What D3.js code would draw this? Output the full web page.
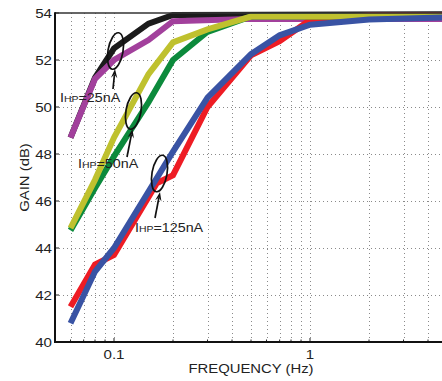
<!DOCTYPE html>
<html><head><meta charset="utf-8">
<script src="https://cdn.jsdelivr.net/npm/d3@7"></script>
<style>body{margin:0;background:#fff}svg{display:block}text{font-family:"Liberation Sans",Arial,sans-serif;fill:#222}</style>
</head><body><svg id="c" width="442" height="381"></svg>
<script>
// ---- data ----
const yTicks = [40, 42, 44, 46, 48, 50, 52, 54];
const xTickLabels = [0.1, 1];
const xGrid = [0.06, 0.07, 0.08, 0.09, 0.1, 0.2, 0.3, 0.4, 0.5, 0.6, 0.7, 0.8, 0.9, 1, 2, 3, 4];
const redF = [0.06, 0.08, 0.1, 0.165, 0.2, 0.3, 0.5, 0.7, 1, 2, 5];
const redG = [41.5, 43.3, 43.7, 46.75, 47.1, 50.0, 52.2, 52.8, 53.7, 53.9, 53.9];
const blueF = [0.06, 0.08, 0.1, 0.2, 0.3, 0.5, 0.7, 1, 2, 5];
const blueG = [40.8, 43.0, 44.0, 48.1, 50.4, 52.25, 53.05, 53.5, 53.72, 53.82];
const blackF = [0.06, 0.08, 0.1, 0.15, 0.2, 5];
const blackG = [48.7, 51.25, 52.5, 53.55, 53.92, 53.95];
const purpleF = [0.06, 0.08, 0.1, 0.15, 0.2, 0.5, 5];
const purpleG = [48.7, 51.2, 52.0, 52.85, 53.65, 53.75, 53.75];
const greenF = [0.06, 0.08, 0.1, 0.15, 0.2, 0.3, 0.5, 5];
const greenG = [44.75, 46.55, 47.9, 50.2, 52.0, 53.2, 53.85, 53.85];
const yellowF = [0.06, 0.08, 0.1, 0.15, 0.2, 0.3, 0.5, 5];
const yellowG = [44.85, 46.9, 48.7, 51.4, 52.75, 53.3, 53.85, 53.85];
const seriesOrder = [
  {f: blackF, g: blackG, color: "#1b1b1b"},
  {f: purpleF, g: purpleG, color: "#a2409c"},
  {f: redF, g: redG, color: "#ee1c24"},
  {f: greenF, g: greenG, color: "#0c8a3c"},
  {f: yellowF, g: yellowG, color: "#bfc12e"},
  {f: blueF, g: blueG, color: "#3953a4"}
];
const annotations = [
  {num: "25nA", lx: 60, ly: 102, ex: 115.5, ey: 51, ax1: 113, ay1: 89, ax2: 115, ay2: 69},
  {num: "50nA", lx: 78, ly: 168, ex: 133.5, ey: 111, ax1: 127, ay1: 157, ax2: 132.5, ay2: 129},
  {num: "125nA", lx: 135, ly: 232, ex: 159.5, ey: 173.5, ax1: 155, ay1: 218, ax2: 160, ay2: 192}
];

// ---- layout ----
const L = 55, R = 447, T = 13, B = 342;
const svg = d3.select("#c");
const x = d3.scaleLog().domain([0.05, 5]).range([L, R]);
const y = d3.scaleLinear().domain([40, 54]).range([B, T]);

// grid
const grid = svg.append("g").attr("stroke", "#8a8a8a").attr("stroke-width", 1).attr("stroke-dasharray", "1,3");
grid.selectAll(".vg").data(xGrid).join("line")
  .attr("x1", d => Math.round(x(d)) + 0.5).attr("x2", d => Math.round(x(d)) + 0.5)
  .attr("y1", T).attr("y2", B);
grid.selectAll(".hg").data(yTicks.slice(1, -1)).join("line")
  .attr("y1", d => Math.round(y(d)) + 0.5).attr("y2", d => Math.round(y(d)) + 0.5)
  .attr("x1", L).attr("x2", R);

// ticks (inward)
const tk = svg.append("g").attr("stroke", "#222").attr("stroke-width", 1);
tk.selectAll(".yt").data(yTicks).join("line")
  .attr("x1", L).attr("x2", L + 4).attr("y1", d => y(d)).attr("y2", d => y(d));
tk.selectAll(".xt").data(xGrid).join("line")
  .attr("x1", d => x(d)).attr("x2", d => x(d)).attr("y1", B)
  .attr("y2", d => xTickLabels.includes(d) ? B - 4 : B - 2.5);

// lines
const line = d3.line().x(d => x(d[0])).y(d => y(d[1]));
const plot = svg.append("g");
seriesOrder.forEach(s => {
  plot.append("path").datum(s.f.map((f, i) => [f, s.g[i]]))
    .attr("d", line).attr("fill", "none").attr("stroke", s.color)
    .attr("stroke-width", 6).attr("stroke-linejoin", "miter").attr("stroke-linecap", "butt");
});

// axes frame
svg.append("line").attr("x1", L).attr("x2", R).attr("y1", T).attr("y2", T).attr("stroke", "#333").attr("stroke-width", 1.5);
svg.append("line").attr("x1", L).attr("x2", L).attr("y1", T - 0.75).attr("y2", B + 1).attr("stroke", "#111").attr("stroke-width", 2);
svg.append("line").attr("x1", L - 1).attr("x2", R).attr("y1", B).attr("y2", B).attr("stroke", "#111").attr("stroke-width", 2);

// tick labels
function stretched(sel, sx, ax, ay) {
  sel.attr("transform", `translate(${ax},${ay}) scale(${sx},1)`);
}
svg.selectAll(".yl").data(yTicks).join("text")
  .attr("text-anchor", "end").attr("font-size", 13.5).attr("dy", "0.36em")
  .each(function(d) { stretched(d3.select(this), 1.12, 52, y(d)); })
  .text(d => d);
svg.selectAll(".xl").data(xTickLabels).join("text")
  .attr("text-anchor", "middle").attr("font-size", 13.5)
  .each(function(d) { stretched(d3.select(this), 1.12, x(d), 359); })
  .text(d => d);

// axis titles
svg.append("text").attr("text-anchor", "middle").attr("font-size", 13.5)
  .attr("transform", `translate(${(L + R) / 2},373) scale(1.1,1)`).text("FREQUENCY (Hz)");
svg.append("text").attr("text-anchor", "middle").attr("font-size", 13.5)
  .attr("transform", `translate(29,${(T + B) / 2}) rotate(-90) scale(1.1,1)`).text("GAIN (dB)");

// annotations
const ann = svg.append("g");
annotations.forEach(a => {
  ann.append("ellipse").attr("cx", 0).attr("cy", 0).attr("rx", 7.5).attr("ry", 18.5)
    .attr("transform", `translate(${a.ex},${a.ey}) rotate(10)`)
    .attr("fill", "none").attr("stroke", "#111").attr("stroke-width", 1.7);
  const ang = Math.atan2(a.ay2 - a.ay1, a.ax2 - a.ax1);
  ann.append("line").attr("x1", a.ax1).attr("y1", a.ay1).attr("x2", a.ax2 - 6 * Math.cos(ang)).attr("y2", a.ay2 - 6 * Math.sin(ang))
    .attr("stroke", "#111").attr("stroke-width", 1.7);
  const hl = 9, hw = 3.2;
  const bx = a.ax2 - hl * Math.cos(ang), by = a.ay2 - hl * Math.sin(ang);
  const px = -Math.sin(ang), py = Math.cos(ang);
  ann.append("path").attr("d", `M${a.ax2},${a.ay2} L${bx + hw * px},${by + hw * py} L${a.ax2 - 5.5 * Math.cos(ang)},${a.ay2 - 5.5 * Math.sin(ang)} L${bx - hw * px},${by - hw * py} Z`)
    .attr("fill", "#111");
  const t = ann.append("text").attr("font-size", 13).attr("transform", `translate(${a.lx},${a.ly}) scale(1.1,1)`);
  t.append("tspan").text("I");
  t.append("tspan").attr("font-size", 9.5).text("HP");
  t.append("tspan").text("=" + a.num);
});
</script></body></html>
